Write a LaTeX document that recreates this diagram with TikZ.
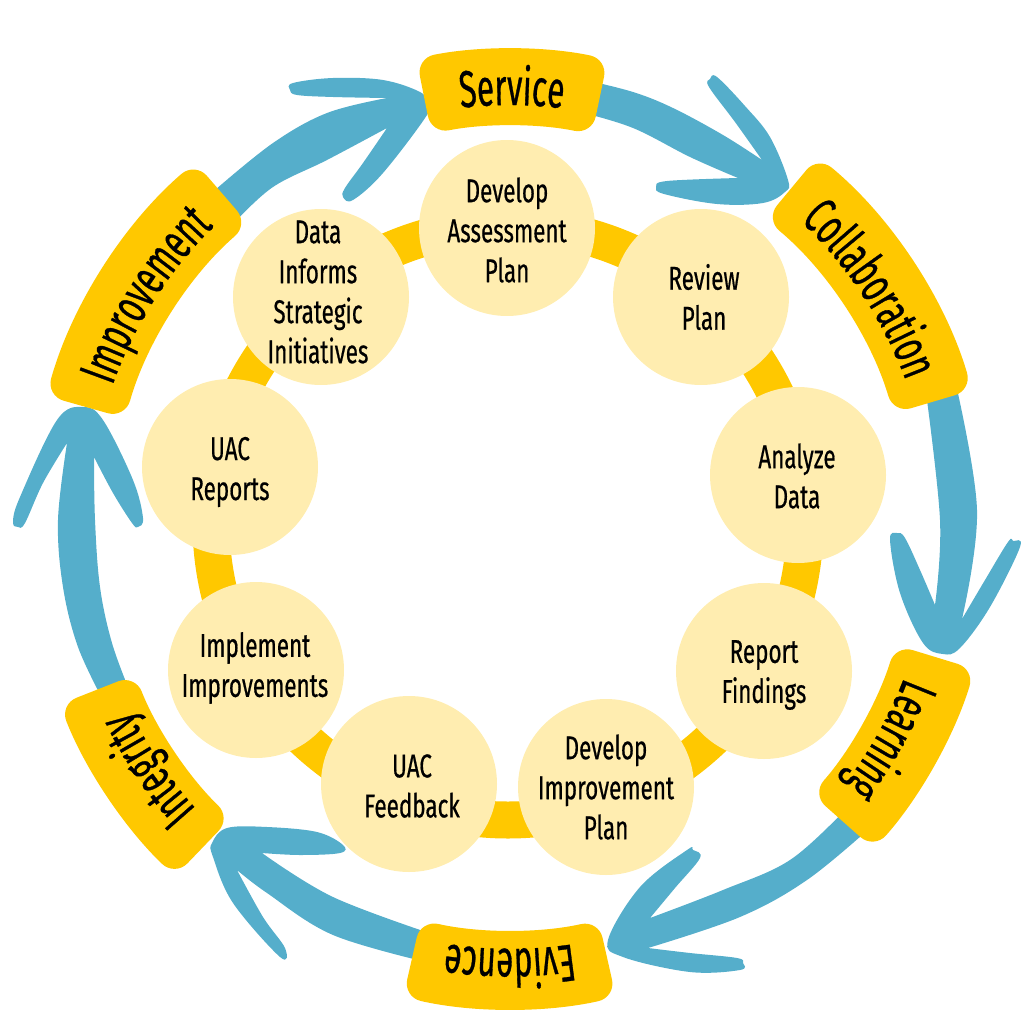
\documentclass[tikz,border=0pt]{standalone}
\usepackage{fontspec}
\setmainfont[FakeStretch=0.68, FakeBold=0.5]{Fira Sans}
\newfontfamily\bannerfamily[FakeStretch=0.6, FakeBold=0.6]{Fira Sans}
\usetikzlibrary{decorations.text}
\definecolor{bannergold}{HTML}{FFC800}
\definecolor{flowblue}{HTML}{55AECB}
\definecolor{stagecream}{HTML}{FFEDB0}
\newcommand{\stagefont}{\fontsize{33}{40}\selectfont}
\newcommand{\bannerfont}{\bannerfamily\fontsize{52}{52}\selectfont}
\tikzstyle{stage} = [circle, minimum size=176pt, inner sep=0pt, fill=stagecream]
\tikzstyle{stagetext} = [inner sep=0pt, align=center, text=black, font=\stagefont]
\tikzstyle{banner} = [fill=bannergold, rounded corners=18pt]
\tikzstyle{flow} = [fill=flowblue]
% name, start angle, end angle, inner radius, outer radius, label
\newcommand{\banner}[6]{
  \path[banner] (#2:#5) arc[start angle=#2, end angle=#3, radius=#5] -- (#3:#4) arc[start angle=#3, end angle=#2, radius=#4] -- cycle;
  \path[decorate, decoration={text along path, text align=center, text={|\bannerfont|#6}}] (#2:422) arc[start angle=#2, end angle=#3, radius=422];
}
% shaft edge, arrow head, shaft edge
\newcommand{\flowarrow}[3]{
  \path[flow] plot[smooth, tension=.6] coordinates {#1} -- plot[smooth, tension=.6] coordinates {#2} -- plot[smooth, tension=.6] coordinates {#3} -- cycle;
}
\begin{document}
\begin{tikzpicture}[x=1pt, y=-1pt]
\useasboundingbox (0,0) rectangle (1024,1024);

\draw [bannergold, line width=37pt] (508,523) circle[radius=297];

% arrows
\flowarrow{(585,80) (633,92) (673,108) (723,135) (762,160)}
  {(762,160) (735,122) (709,87) (710,79) (717,77) (745,106) (770,137) (788,180) (785,192) (763,203) (717,204) (664,194) (656,187) (667,181) (738,178)}
  {(738,178) (690,157) (633,128) (580,112)}
\flowarrow{(925,385) (940,520) (935,605)}
  {(935,605) (920,570) (905,538) (897,533) (890,540) (900,593) (923,643) (943,654) (960,648) (990,607) (1020,547) (1013,541) (1008,542) (985,580) (962,619)}
  {(962,619) (977,510) (955,380)}
\flowarrow{(845,810) (790,860) (723,890) (650,918)}
  {(650,918) (675,888) (700,858) (693,850) (687,850) (640,887) (608,940) (623,957) (690,972) (740,970) (743,963) (737,958) (690,953) (648,948)}
  {(648,948) (740,917) (807,880) (870,828)}
\flowarrow{(435,935) (333,897) (262,853)}
  {(262,853) (300,855) (340,853) (343,845) (317,832) (267,827) (227,828) (212,843) (213,857) (233,903) (280,957) (285,948) (263,917) (237,870)}
  {(237,870) (267,893) (333,935) (430,963)}
\flowarrow{(103,700) (78,647) (63,587) (58,520) (67,443)}
  {(67,443) (43,483) (25,523) (18,527) (13,522) (20,497) (57,420) (83,407) (103,420) (133,480) (143,518) (138,527) (132,523) (113,493) (94,457)}
  {(94,457) (95,520) (100,587) (112,643) (130,692)}
\flowarrow{(215,190) (273,143) (327,113) (387,98)}
  {(387,98) (333,97) (297,95) (290,90) (293,83) (333,78) (383,80) (420,92) (427,103) (427,115) (383,173) (353,200) (343,197) (345,188) (363,163) (387,128)}
  {(387,128) (327,160) (273,187) (235,222)}

% banners round the outside
\begin{scope}[shift={(510,527)}, y=1pt]
\banner{service}{101.3}{78.2}{401}{478}{Service}
\banner{collaboration}{50.3}{16.5}{400}{482}{Collaboration}
\banner{learning}{-17}{-41.5}{403}{486}{Learning}
\banner{evidence}{-77.3}{-102.8}{403}{482}{Evidence}
\banner{integrity}{226.2}{201.5}{403}{484}{Integrity}
\banner{improvement}{164.2}{130.8}{400}{482}{Improvement}
\end{scope}

% stages on the ring
\node (assess) [stage] at (507,228) {};
\node (review) [stage] at (701,297) {};
\node (analyze) [stage] at (798,475) {};
\node (report) [stage] at (764,671) {};
\node (improve) [stage] at (606,787) {};
\node (feedback) [stage] at (409,784) {};
\node (implement) [stage] at (256,670) {};
\node (reports) [stage] at (230,467) {};
\node (data) [stage] at (321,297) {};

\node (assesstext) [stagetext] at (507,230) {Develop\\Assessment\\Plan};
\node (reviewtext) [stagetext] at (704,297) {Review\\Plan};
\node (analyzetext) [stagetext] at (797,476) {Analyze\\Data};
\node (reporttext) [stagetext] at (764,675) {Report\\Findings};
\node (improvetext) [stagetext] at (606,787) {Develop\\Improvement\\Plan};
\node (feedbacktext) [stagetext] at (412,786) {UAC\\Feedback};
\node (implementtext) [stagetext] at (255,668) {Implement\\Improvements};
\node (reportstext) [stagetext] at (230,472) {UAC\\Reports};
\node (datatext) [stagetext] at (318,292) {Data\\Informs\\Strategic\\Initiatives};
\end{tikzpicture}
\end{document}
